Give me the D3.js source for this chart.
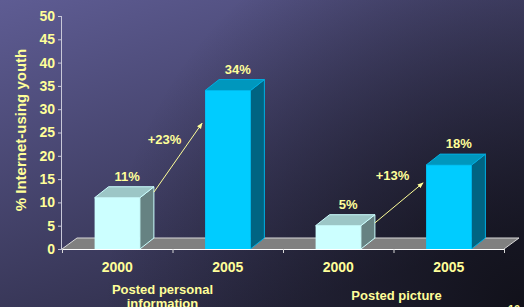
<!DOCTYPE html>
<html>
<head>
<meta charset="utf-8">
<script src="https://cdnjs.cloudflare.com/ajax/libs/d3/7.8.5/d3.min.js"></script>
<style>
html,body{margin:0;padding:0;background:#2a2a40;}
svg{display:block;}
text{font-family:"Liberation Sans",Arial,sans-serif;font-weight:bold;fill:#ffff99;}
</style>
</head>
<body>
<script>
(function(){
// ---- data ----
const groupNames = ["Posted personal information", "Posted picture"];
const years = ["2000", "2005"];
const personalValues = [11, 34];
const pictureValues = [5, 18];
const changeLabels = ["+23%", "+13%"];
const yTicks = [0, 5, 10, 15, 20, 25, 30, 35, 40, 45, 50];
const yLabel = "% Internet-using youth";
const pageNumber = "10";

const W = 524, H = 307;
const svg = d3.select("body").append("svg").attr("width", W).attr("height", H);
const defs = svg.append("defs");

// background
const lg = defs.append("linearGradient").attr("id", "bg")
  .attr("x1", 0).attr("y1", 0).attr("x2", 0.55).attr("y2", 1);
lg.append("stop").attr("offset", 0).attr("stop-color", "#5e5c93");
lg.append("stop").attr("offset", 1).attr("stop-color", "#2e2d48");
const rg = defs.append("radialGradient").attr("id", "shade")
  .attr("gradientUnits", "userSpaceOnUse").attr("cx", W).attr("cy", H).attr("r", 420);
rg.append("stop").attr("offset", 0).attr("stop-color", "#0c0c12").attr("stop-opacity", 0.85);
rg.append("stop").attr("offset", 1).attr("stop-color", "#0c0c12").attr("stop-opacity", 0);
svg.append("rect").attr("width", W).attr("height", H).attr("fill", "url(#bg)");
svg.append("rect").attr("width", W).attr("height", H).attr("fill", "url(#shade)");

// scales
const pL = 62, pR = 504, pT = 16, pB = 249;
const y = d3.scaleLinear().domain([0, 50]).range([pB, pT]);
const cats = [];
groupNames.forEach((g, gi) => years.forEach((yr, yi) => cats.push({g, gi, yr, yi,
  v: gi === 0 ? personalValues[yi] : pictureValues[yi]})));
const x = d3.scaleBand().domain(cats.map((c, i) => i)).range([pL, pR]).padding(0);
const bw = x.bandwidth() * 0.41;
const dx = 14, dy = -11;

// floor
const floorPts = [[pL, pB], [pL + dx + 1, pB + dy], [pR + dx + 1, pB + dy], [pR, pB]];
svg.append("polygon").attr("points", floorPts.map(p => p.join(",")).join(" "))
  .attr("fill", "#808080");
svg.append("polyline")
  .attr("points", floorPts.map(p => p.join(",")).join(" "))
  .attr("fill", "none").attr("stroke", "#d8d8d8").attr("stroke-width", 1);

// bars
const styles = [
  {front: "#ccffff", top: "#9cc6c6", side: "#668282", stroke: "#ccffff"},
  {front: "#00ccff", top: "#0097bd", side: "#006482", stroke: "#00aee0"}
];
const bars = svg.append("g");
cats.forEach((c, i) => {
  const s = styles[c.yi];
  const x0 = x(i) + (x.bandwidth() - bw) / 2, x1 = x0 + bw;
  const yt = y(c.v), yb = y(0);
  const g = bars.append("g").attr("stroke", s.stroke).attr("stroke-width", 1).attr("stroke-linejoin", "round");
  g.append("polygon").attr("points", [[x1, yb], [x1 + dx, yb + dy], [x1 + dx, yt + dy], [x1, yt]].map(p => p.join(",")).join(" "))
    .attr("fill", s.side);
  g.append("polygon").attr("points", [[x0, yt], [x0 + dx, yt + dy], [x1 + dx, yt + dy], [x1, yt]].map(p => p.join(",")).join(" "))
    .attr("fill", s.top);
  g.append("rect").attr("x", x0).attr("y", yt).attr("width", bw).attr("height", yb - yt)
    .attr("fill", s.front).attr("stroke", "none");
  svg.append("text").attr("x", x0 + bw / 2 + 10).attr("y", yt + dy - 6)
    .attr("text-anchor", "middle").attr("font-size", 13).text(c.v + "%");
});

// axes
const yAxis = svg.append("g").attr("transform", `translate(${pL},0)`)
  .call(d3.axisLeft(y).tickValues(yTicks).tickSize(4).tickPadding(3));
yAxis.select(".domain").attr("stroke", "#c8c8d8").attr("d", `M-0.5,${pT}V${pB}`);
yAxis.selectAll(".tick line").attr("stroke", "#c8c8d8");
yAxis.selectAll(".tick text").attr("fill", "#ffff99").attr("font-size", 14)
  .attr("font-family", "Liberation Sans, Arial, sans-serif").attr("font-weight", "bold");

svg.append("line").attr("x1", pL).attr("x2", pR).attr("y1", pB + 0.5).attr("y2", pB + 0.5)
  .attr("stroke", "#ffffff").attr("stroke-width", 1.2);
const edges = x.domain().map(d => x(d)).concat([pR]);
svg.selectAll(".xt").data(edges).enter().append("line")
  .attr("x1", d => d + 0.5).attr("x2", d => d + 0.5).attr("y1", pB).attr("y2", pB + 4)
  .attr("stroke", "#d8d8d8");

// year labels
cats.forEach((c, i) => {
  svg.append("text").attr("x", x(i) + x.bandwidth() / 2).attr("y", 272)
    .attr("text-anchor", "middle").attr("font-size", 14).text(c.yr);
});

// group labels
const gLab1 = svg.append("text").attr("text-anchor", "middle").attr("font-size", 13);
const g1c = (x(0) + x(1) + x.bandwidth()) / 2 - 10;
gLab1.append("tspan").attr("x", g1c).attr("y", 294).text("Posted personal");
gLab1.append("tspan").attr("x", g1c).attr("y", 308).text("information");
const g2c = (x(2) + x(3) + x.bandwidth()) / 2 + 3;
svg.append("text").attr("x", g2c).attr("y", 300).attr("text-anchor", "middle").attr("font-size", 13)
  .text(groupNames[1]);

// y label
svg.append("text").attr("transform", `translate(26,130) rotate(-90)`)
  .attr("text-anchor", "middle").attr("font-size", 15).text(yLabel);

// arrows
defs.append("marker").attr("id", "ah").attr("viewBox", "0 0 10 10").attr("refX", 9).attr("refY", 5)
  .attr("markerWidth", 6).attr("markerHeight", 6).attr("orient", "auto")
  .append("path").attr("d", "M0,1L10,5L0,9Z").attr("fill", "#ffff99");
const arrowAnchors = [[12.2, 27.0, 23.6], [5.6, 14.2, 15.9]];
groupNames.forEach((g, gi) => {
  const i0 = gi * 2, i1 = gi * 2 + 1;
  const xa = x(i0) + (x.bandwidth() + bw) / 2 + dx;
  const xb = x(i1) + (x.bandwidth() - bw) / 2 - 3;
  const [a, b, l] = arrowAnchors[gi];
  svg.append("line").attr("x1", xa).attr("y1", y(a)).attr("x2", xb).attr("y2", y(b))
    .attr("stroke", "#ffff99").attr("stroke-width", 1).attr("marker-end", "url(#ah)");
  const mid = (x(i0) + (x.bandwidth() + bw) / 2 + x(i1) + (x.bandwidth() - bw) / 2) / 2;
  svg.append("text").attr("x", mid - (gi === 0 ? 8 : 1)).attr("y", y(l) + 4.7)
    .attr("text-anchor", "middle").attr("font-size", 13).text(changeLabels[gi]);
});

// page number
svg.append("text").attr("x", 514).attr("y", 313).attr("text-anchor", "middle")
  .attr("font-size", 11).attr("font-weight", "normal").attr("fill", "#cfcf90").text(pageNumber);
})();
</script>
</body>
</html>
